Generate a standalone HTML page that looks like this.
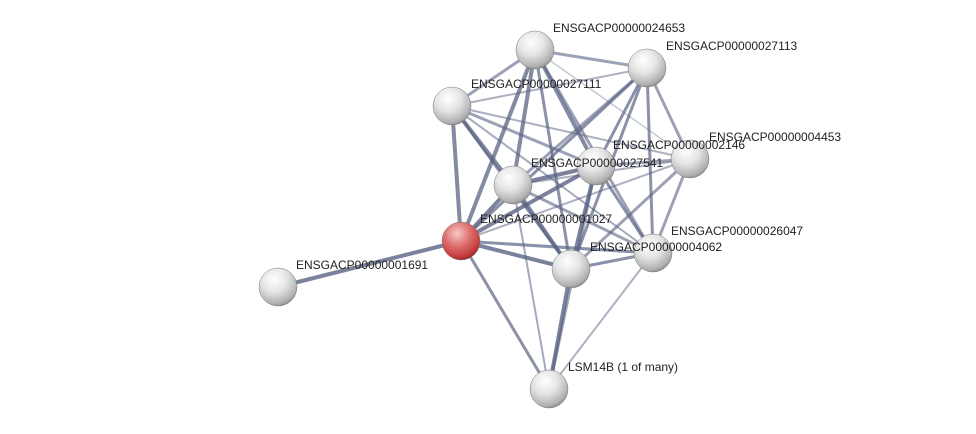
<!DOCTYPE html>
<html><head><meta charset="utf-8"><style>
html,body{margin:0;padding:0;background:#fff;}
svg{display:block;}
text{font-family:"Liberation Sans",sans-serif;font-size:12px;fill:#222;}
</style></head><body>
<svg width="976" height="434" viewBox="0 0 976 434" xmlns="http://www.w3.org/2000/svg">
<defs>
<radialGradient id="gw" cx="0.4" cy="0.3" r="0.75">
<stop offset="0" stop-color="#ffffff"/><stop offset="0.45" stop-color="#e4e4e4"/><stop offset="0.85" stop-color="#b0b0b0"/><stop offset="1" stop-color="#808080"/>
</radialGradient>
<radialGradient id="gr" cx="0.4" cy="0.3" r="0.75">
<stop offset="0" stop-color="#f6c8c8"/><stop offset="0.45" stop-color="#e07070"/><stop offset="0.85" stop-color="#c03838"/><stop offset="1" stop-color="#7c1a1a"/>
</radialGradient>
</defs>
<g stroke="#5a6383" stroke-linecap="round" fill="none">
<line x1="278" y1="287" x2="461" y2="241" stroke-width="4" opacity="0.8"/>
<line x1="461" y1="241" x2="452" y2="106" stroke-width="4" opacity="0.75"/>
<line x1="461" y1="241" x2="535" y2="50" stroke-width="4" opacity="0.75"/>
<line x1="461" y1="241" x2="647" y2="68" stroke-width="3" opacity="0.7"/>
<line x1="461" y1="241" x2="513" y2="185" stroke-width="4" opacity="0.8"/>
<line x1="461" y1="241" x2="596" y2="166" stroke-width="4" opacity="0.8"/>
<line x1="461" y1="241" x2="690" y2="159" stroke-width="2" opacity="0.5"/>
<line x1="461" y1="241" x2="653" y2="253" stroke-width="3" opacity="0.7"/>
<line x1="461" y1="241" x2="571" y2="269" stroke-width="4" opacity="0.8"/>
<line x1="461" y1="241" x2="549" y2="389" stroke-width="3" opacity="0.7"/>
<line x1="535" y1="50" x2="647" y2="68" stroke-width="3" opacity="0.6"/>
<line x1="535" y1="50" x2="452" y2="106" stroke-width="3" opacity="0.6"/>
<line x1="535" y1="50" x2="513" y2="185" stroke-width="4" opacity="0.75"/>
<line x1="535" y1="50" x2="596" y2="166" stroke-width="4" opacity="0.75"/>
<line x1="535" y1="50" x2="690" y2="159" stroke-width="1.5" opacity="0.35"/>
<line x1="535" y1="50" x2="571" y2="269" stroke-width="3" opacity="0.7"/>
<line x1="535" y1="50" x2="653" y2="253" stroke-width="3" opacity="0.6"/>
<line x1="647" y1="68" x2="452" y2="106" stroke-width="2" opacity="0.5"/>
<line x1="647" y1="68" x2="513" y2="185" stroke-width="3" opacity="0.6"/>
<line x1="647" y1="68" x2="596" y2="166" stroke-width="3" opacity="0.7"/>
<line x1="647" y1="68" x2="690" y2="159" stroke-width="3" opacity="0.6"/>
<line x1="647" y1="68" x2="571" y2="269" stroke-width="3" opacity="0.7"/>
<line x1="647" y1="68" x2="653" y2="253" stroke-width="3" opacity="0.7"/>
<line x1="452" y1="106" x2="513" y2="185" stroke-width="4" opacity="0.75"/>
<line x1="452" y1="106" x2="596" y2="166" stroke-width="3" opacity="0.6"/>
<line x1="452" y1="106" x2="690" y2="159" stroke-width="2" opacity="0.5"/>
<line x1="452" y1="106" x2="571" y2="269" stroke-width="3" opacity="0.7"/>
<line x1="452" y1="106" x2="653" y2="253" stroke-width="2" opacity="0.55"/>
<line x1="513" y1="185" x2="596" y2="166" stroke-width="4" opacity="0.8"/>
<line x1="513" y1="185" x2="690" y2="159" stroke-width="2" opacity="0.5"/>
<line x1="513" y1="185" x2="571" y2="269" stroke-width="4" opacity="0.8"/>
<line x1="513" y1="185" x2="653" y2="253" stroke-width="3" opacity="0.6"/>
<line x1="513" y1="185" x2="549" y2="389" stroke-width="2" opacity="0.55"/>
<line x1="596" y1="166" x2="690" y2="159" stroke-width="3" opacity="0.6"/>
<line x1="596" y1="166" x2="571" y2="269" stroke-width="4" opacity="0.8"/>
<line x1="596" y1="166" x2="653" y2="253" stroke-width="3" opacity="0.7"/>
<line x1="596" y1="166" x2="549" y2="389" stroke-width="3" opacity="0.6"/>
<line x1="690" y1="159" x2="571" y2="269" stroke-width="3" opacity="0.6"/>
<line x1="690" y1="159" x2="653" y2="253" stroke-width="3" opacity="0.6"/>
<line x1="571" y1="269" x2="653" y2="253" stroke-width="3" opacity="0.7"/>
<line x1="571" y1="269" x2="549" y2="389" stroke-width="4" opacity="0.8"/>
<line x1="653" y1="253" x2="549" y2="389" stroke-width="2" opacity="0.5"/>
</g>
<g stroke="#777" stroke-width="0.5">
<circle cx="535" cy="50" r="19" fill="url(#gw)"/>
<circle cx="647" cy="68" r="19" fill="url(#gw)"/>
<circle cx="452" cy="106" r="19" fill="url(#gw)"/>
<circle cx="690" cy="159" r="19" fill="url(#gw)"/>
<circle cx="596" cy="166" r="19" fill="url(#gw)"/>
<circle cx="513" cy="185" r="19" fill="url(#gw)"/>
<circle cx="461" cy="241" r="19" fill="url(#gr)"/>
<circle cx="653" cy="253" r="19" fill="url(#gw)"/>
<circle cx="571" cy="269" r="19" fill="url(#gw)"/>
<circle cx="278" cy="287" r="19" fill="url(#gw)"/>
<circle cx="549" cy="389" r="19" fill="url(#gw)"/>
</g>
<g>
<text x="553" y="32">ENSGACP00000024653</text>
<text x="666" y="50">ENSGACP00000027113</text>
<text x="471" y="88">ENSGACP00000027111</text>
<text x="709" y="141">ENSGACP00000004453</text>
<text x="613" y="149">ENSGACP00000002146</text>
<text x="531" y="167">ENSGACP00000027541</text>
<text x="480" y="223">ENSGACP00000001027</text>
<text x="671" y="235">ENSGACP00000026047</text>
<text x="590" y="251">ENSGACP00000004062</text>
<text x="296" y="269">ENSGACP00000001691</text>
<text x="568" y="371">LSM14B (1 of many)</text>
</g>
</svg>
</body></html>
